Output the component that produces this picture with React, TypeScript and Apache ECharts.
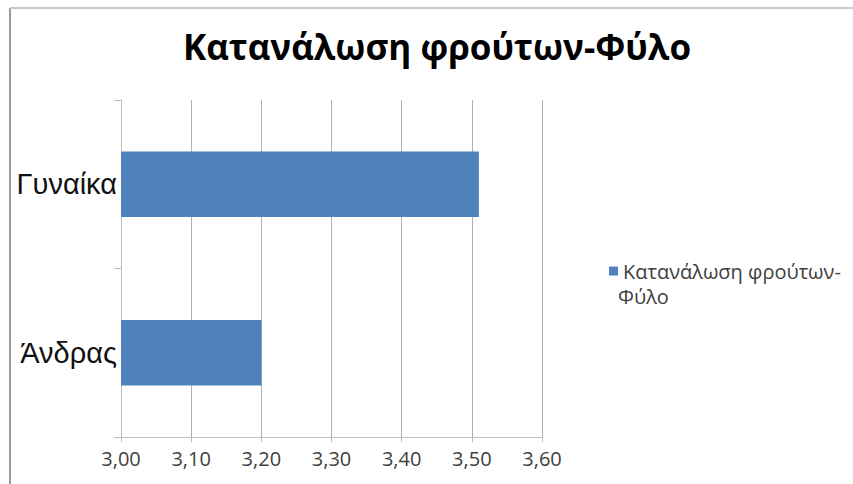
import React, { useEffect, useRef } from "react";
import * as echarts from "echarts";

const title = "Κατανάλωση φρούτων-Φύλο";
const categories = ["Άνδρας", "Γυναίκα"];
const values = [3.2, 3.51];
const seriesName = "Κατανάλωση φρούτων-Φύλο";
const legendLines = ["Κατανάλωση φρούτων-", "Φύλο"];
const xMin = 3.0;
const xMax = 3.6;
const xInterval = 0.1;

export default function App() {
  const ref = useRef<HTMLDivElement>(null);
  useEffect(() => {
    if (!ref.current) return;
    const chart = echarts.init(ref.current, null, { renderer: "svg" });
    chart.setOption({
      animation: false,
      backgroundColor: "#ffffff",
      title: {
        text: title,
        left: 432,
        textAlign: "center",
        top: 24,
        textStyle: {
          fontFamily: "Open Sans",
          fontWeight: "bold",
          fontSize: 35,
          color: "#000000",
        },
      },
      legend: {
        left: 604,
        top: 256,
        orient: "vertical",
        icon: "rect",
        itemWidth: 9,
        itemHeight: 9,
        formatter: () => legendLines[0],
        textStyle: {
          fontFamily: "Open Sans",
          fontSize: 20,
          color: "#404040",
        },
      },
      grid: { left: 121, right: 311, top: 100, bottom: 47, containLabel: false },
      xAxis: {
        type: "value",
        min: xMin,
        max: xMax,
        interval: xInterval,
        axisLine: { show: true, lineStyle: { color: "#bdbdbd", width: 1 } },
        axisTick: { show: true, length: 5, lineStyle: { color: "#bdbdbd" } },
        splitLine: { show: true, lineStyle: { color: "#b0b0b0", width: 1 } },
        axisLabel: {
          formatter: (v: number) => v.toFixed(2).replace(".", ","),
          fontFamily: "Open Sans",
          fontSize: 20,
          color: "#404040",
          margin: 11,
        },
      },
      yAxis: {
        type: "category",
        data: categories,
        axisLine: { show: true, lineStyle: { color: "#bdbdbd", width: 1 } },
        axisTick: { show: true, length: 7, alignWithLabel: false, lineStyle: { color: "#bdbdbd" } },
        splitLine: { show: false },
        axisLabel: {
          fontFamily: "Liberation Sans",
          fontSize: 29,
          color: "#111111",
          margin: 4,
        },
      },
      series: [
        {
          name: seriesName,
          type: "bar",
          data: values,
          barWidth: "39%",
          itemStyle: { color: "#4f81bd" },
        },
      ],
      graphic: [
        { type: "line", shape: { x1: 10, y1: 8, x2: 10, y2: 484 }, style: { stroke: "#9a9a9a", lineWidth: 2 } },
        { type: "line", shape: { x1: 10, y1: 8, x2: 853, y2: 8 }, style: { stroke: "#c8c8c8", lineWidth: 2 } },
        {
          type: "text",
          left: 618,
          top: 286,
          style: {
            text: legendLines[1],
            fontFamily: "Open Sans",
            fontSize: 20,
            fill: "#404040",
          },
        },
      ],
    });
    return () => chart.dispose();
  }, []);
  return <div ref={ref} style={{ position: "absolute", left: 0, top: 0, width: 853, height: 484 }} />;
}
